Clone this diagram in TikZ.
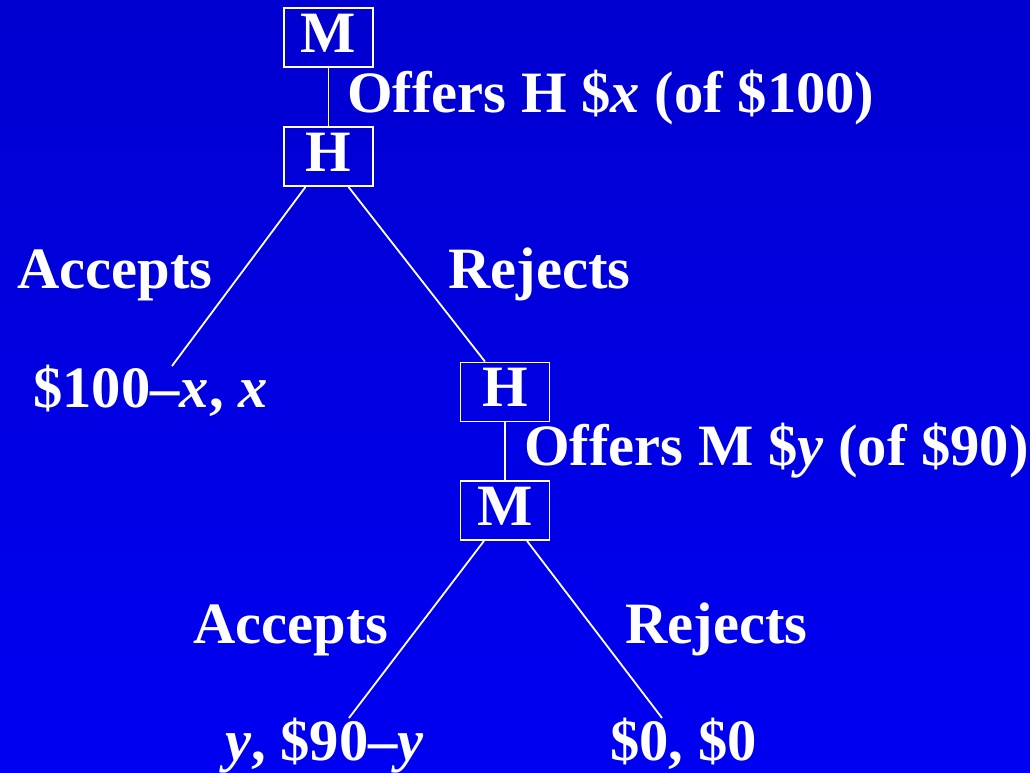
\documentclass[tikz,border=0pt]{standalone}
\usepackage{fontspec}
\setmainfont{Liberation Serif}
\usetikzlibrary{calc}
\definecolor{bgtop}{RGB}{0,0,208}
\definecolor{bgbot}{RGB}{0,0,242}
\begin{document}
\begin{tikzpicture}[x=1pt,y=-1pt,
  every node/.style={text=white,font=\fontsize{58.6}{60}\selectfont\bfseries},
  player/.style={draw=white,line width=1.8pt,minimum width=89pt,minimum height=59pt,inner sep=0pt,text height=38.4pt,text depth=9pt},
  lbl/.style={anchor=base west,inner sep=0pt},
  edge/.style={draw=white,line width=1.8pt}]
\shade[top color=bgtop,bottom color=bgbot] (0,0) rectangle (1030,772);
\useasboundingbox (0,0) rectangle (1030,772);
\node[player] (M1) at (328.5,37.5) {M};
\node[player] (H1) at (328.5,156.5) {H};
\node[player] (H2) at (505,392) {H};
\node[player] (M2) at (505,510.5) {M};
\coordinate (e1) at (172,366);
\coordinate (e3) at (349,718);
\coordinate (e4) at (662,718);
\node[lbl] (o1) at (347,112) {Offers H \$\textit{x} (of \$100)};
\node[lbl] (a1) at (17,288) {Accepts};
\node[lbl] (r1) at (448,288) {Rejects};
\node[lbl] (p1) at (33,407) {\$100--\textit{x}, \textit{x}};
\node[lbl] (o2) at (524,465) {Offers M \$\textit{y} (of \$90)};
\node[lbl] (a2) at (193,643) {Accepts};
\node[lbl] (r2) at (625,643) {Rejects};
\node[lbl] (p2) at (225,760) {\textit{y}, \$90--\textit{y}};
\node[lbl] (p3) at (610,760) {\$0, \$0};
\draw[edge] (M1) -- (H1);
\draw[edge] ($(H1.south)+(-23,0)$) -- (e1);
\draw[edge] ($(H1.south)+(20,0)$) -- ($(H2.north)+(-20,0)$);
\draw[edge] (H2) -- (M2);
\draw[edge] ($(M2.south)+(-21,0)$) -- (e3);
\draw[edge] ($(M2.south)+(22,0)$) -- (e4);
\end{tikzpicture}
\end{document}
